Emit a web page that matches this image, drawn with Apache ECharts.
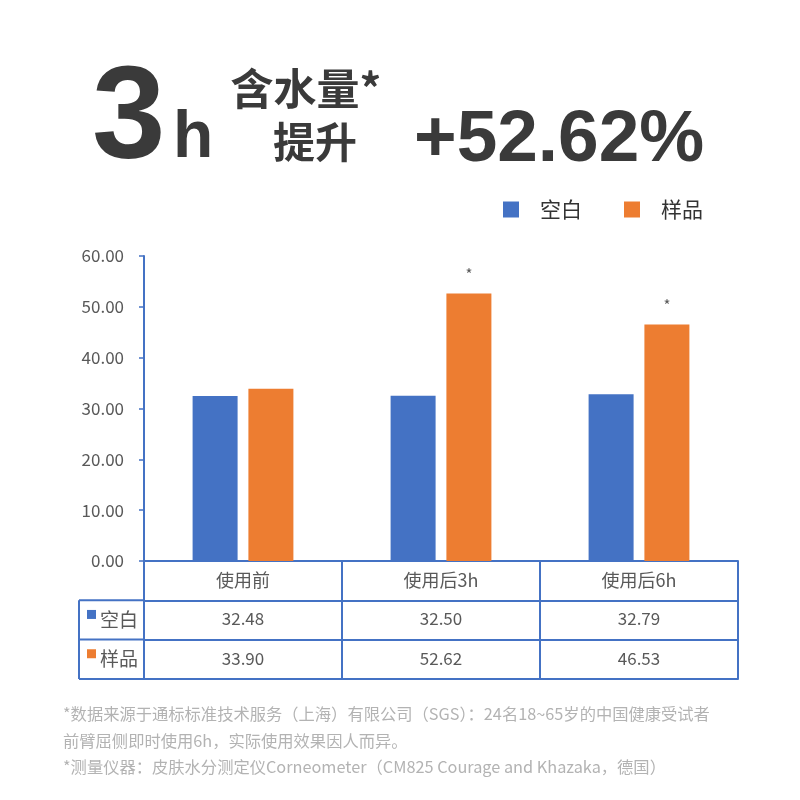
<!DOCTYPE html>
<html><head><meta charset="utf-8">
<script src="https://cdn.jsdelivr.net/npm/echarts@6/dist/echarts.min.js"></script>
<style>html,body{margin:0;padding:0;background:#fff}#c{width:800px;height:800px}</style>
</head><body><div id="c"></div>
<script>
var categories = ['使用前', '使用后3h', '使用后6h'];
var seriesNames = ['空白', '样品'];
var blankValues = [32.48, 32.50, 32.79];
var sampleValues = [33.90, 52.62, 46.53];
var sampleMarks = ['', '*', '*'];
var yTicks = [0, 10, 20, 30, 40, 50, 60];
var headline = { big: '3', unit: 'h', line1: '含水量*', line2: '提升', value: '+52.62%' };
var footnotes = [
  '*数据来源于通标标准技术服务（上海）有限公司（SGS）：24名18~65岁的中国健康受试者',
  '前臂屈侧即时使用6h，实际使用效果因人而异。',
  '*测量仪器：皮肤水分测定仪Corneometer（CM825 Courage and Khazaka，德国）'
];

var BLUE = '#4472C4', ORANGE = '#ED7D31', TXT = '#595959', DARK = '#3a3a3a';
var FONT = '"Noto Sans CJK SC", "Noto Sans", sans-serif';
var LATIN = '"Liberation Sans", Arial, sans-serif';
var chart = echarts.init(document.getElementById('c'));

var GL = 144, GR = 738, GT = 256, GB = 561, ROW = 39.3;
function valueAxis(offset, labels) {
  return {
    type: 'category', data: categories, gridIndex: 0, position: 'bottom', offset: offset,
    axisLine: { show: true, lineStyle: { color: BLUE, width: 2 } },
    axisTick: { show: false },
    axisLabel: { show: !!labels, margin: 10, color: TXT, fontSize: 17, fontFamily: FONT,
      formatter: function (v, i) { return labels ? labels[i].toFixed(2) : ''; } },
    splitLine: { show: false }
  };
}

var option = {
  animation: false,
  backgroundColor: '#fff',
  textStyle: { fontFamily: FONT },
  legend: {
    data: seriesNames, left: 498, top: 194, itemWidth: 16, itemHeight: 16, itemGap: 42,
    icon: 'rect',
    textStyle: { fontSize: 21, color: '#333', fontFamily: FONT, padding: [0, 0, 0, 16] }
  },
  grid: { left: GL, right: 800 - GR, top: GT, bottom: 800 - GB, containLabel: false },
  xAxis: [
    {
      type: 'category', data: categories, position: 'bottom',
      axisLine: { show: true, lineStyle: { color: BLUE, width: 2 } },
      axisTick: { show: true, alignWithLabel: false, length: ROW * 3, lineStyle: { color: BLUE, width: 2 } },
      axisLabel: { margin: 10, color: TXT, fontSize: 18, fontFamily: FONT },
      splitLine: { show: false }
    },
    valueAxis(ROW, blankValues),
    valueAxis(ROW * 2, sampleValues),
    valueAxis(ROW * 3, null)
  ],
  yAxis: {
    type: 'value', min: yTicks[0], max: yTicks[yTicks.length - 1], interval: yTicks[1] - yTicks[0],
    axisLine: { show: true, lineStyle: { color: BLUE, width: 2 } },
    axisTick: { show: true, length: 5, lineStyle: { color: BLUE, width: 1.5 } },
    axisLabel: { color: TXT, fontSize: 17, margin: 20, fontFamily: FONT,
      formatter: function (v) { return v.toFixed(2); } },
    splitLine: { show: false }
  },
  series: [
    { name: seriesNames[0], type: 'bar', data: blankValues, barWidth: 45, barGap: '24%',
      itemStyle: { color: BLUE } },
    { name: seriesNames[1], type: 'bar', data: sampleValues, barWidth: 45,
      itemStyle: { color: ORANGE },
      label: { show: true, position: 'top', distance: 12, color: TXT, fontSize: 15,
        formatter: function (p) { return sampleMarks[p.dataIndex]; } } }
  ]
};
chart.setOption(option);

var LX = 79;
var g = [];
var lineStyle = { stroke: BLUE, lineWidth: 2 };
[1, 2, 3].forEach(function (k) {
  g.push({ type: 'line', shape: { x1: LX, y1: GB + ROW * k, x2: GL, y2: GB + ROW * k }, style: lineStyle });
});
g.push({ type: 'line', shape: { x1: LX, y1: GB + ROW, x2: LX, y2: GB + ROW * 3 }, style: lineStyle });
[[BLUE, seriesNames[0]], [ORANGE, seriesNames[1]]].forEach(function (it, k) {
  var cy = GB + ROW * (k + 1) + ROW / 2;
  g.push({ type: 'rect', shape: { x: 87, y: cy - 10, width: 9, height: 9 }, style: { fill: it[0] } });
  g.push({ type: 'text', x: 100, y: cy, style: { text: it[1], fill: TXT, fontSize: 19, fontFamily: FONT, verticalAlign: 'middle' } });
});
// headline
g.push({ type: 'text', x: 92, y: 122, style: { text: headline.big, fill: DARK, fontSize: 132, fontWeight: 'bold', fontFamily: LATIN, verticalAlign: 'middle' } });
g.push({ type: 'text', x: 173, y: 139, style: { text: headline.unit, fill: DARK, fontSize: 66, fontWeight: 'bold', fontFamily: LATIN, verticalAlign: 'middle' } });
g.push({ type: 'text', x: 306, y: 89, style: { text: headline.line1, fill: DARK, fontSize: 43, fontWeight: 'bold', fontFamily: FONT, verticalAlign: 'middle', align: 'center' } });
g.push({ type: 'text', x: 315, y: 142, style: { text: headline.line2, fill: DARK, fontSize: 42, fontWeight: 'bold', fontFamily: FONT, verticalAlign: 'middle', align: 'center' } });
g.push({ type: 'text', x: 414, y: 141, style: { text: headline.value, fill: DARK, fontSize: 73, fontWeight: 'bold', fontFamily: LATIN, verticalAlign: 'middle' } });
// footnotes
[714, 741, 767].forEach(function (y, i) {
  g.push({ type: 'text', x: 63, y: y, style: { text: footnotes[i], fill: '#b3b3b3', fontSize: 16.3, fontFamily: FONT, verticalAlign: 'middle' } });
});
chart.setOption({ graphic: { elements: g } });
</script>
</body></html>
